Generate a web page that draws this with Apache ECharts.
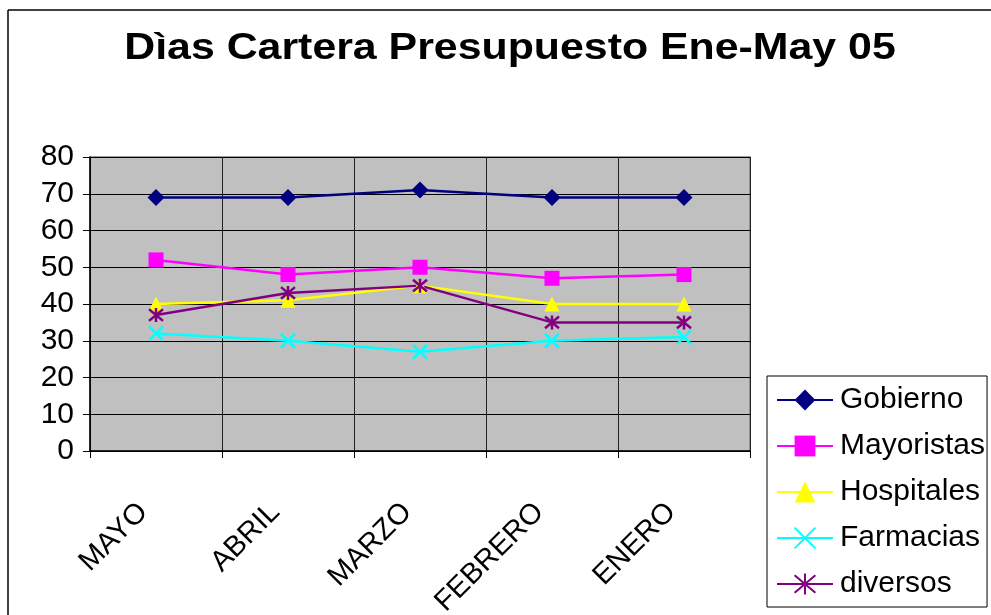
<!DOCTYPE html>
<html>
<head>
<meta charset="utf-8">
<script src="https://cdn.jsdelivr.net/npm/echarts@6/dist/echarts.min.js"></script>
<style>
  html, body { margin: 0; padding: 0; background: #fff; }
  #chart { width: 991px; height: 615px; }
</style>
</head>
<body>
<div id="chart"></div>
<script>
// Months, newest first
const months = ['MAYO', 'ABRIL', 'MARZO', 'FEBRERO', 'ENERO'];
const yTicks = [0, 10, 20, 30, 40, 50, 60, 70, 80];

// Days of portfolio per customer segment
const gobierno    = [69, 69, 71, 69, 69];
const mayoristas  = [52, 48, 50, 47, 48];
const hospitales  = [40, 41, 45, 40, 40];
const farmacias   = [32, 30, 27, 30, 31];
const diversos    = [37, 43, 45, 35, 35];

const titleText = 'Dìas Cartera Presupuesto Ene-May 05';

const FONT = '"Liberation Sans", Arial, sans-serif';

const X_PATH = 'path://M0,0 L10,10 M10,0 L0,10';
const STAR_PATH = 'path://M0,0 L10,10 M10,0 L0,10 M5,-1 L5,11';

function lineSeries(name, data, color, symbol, size, extra) {
  return Object.assign({
    name: name,
    type: 'line',
    data: data,
    symbol: symbol,
    symbolSize: size,
    showAllSymbol: true,
    lineStyle: { color: color, width: 2.5 },
    itemStyle: { color: color, opacity: 1 },
    emphasis: { disabled: true },
    animation: false,
    z: 3
  }, extra || {});
}

const chart = echarts.init(document.getElementById('chart'));
chart.setOption({
  backgroundColor: '#ffffff',
  animation: false,
  graphic: [
    { type: 'line', shape: { x1: 8, y1: 10, x2: 991, y2: 10 }, style: { stroke: '#000', lineWidth: 1.5 } },
    { type: 'line', shape: { x1: 8, y1: 10, x2: 8, y2: 615 }, style: { stroke: '#000', lineWidth: 1.5 } },
    {
      type: 'text',
      x: 510, y: 49,
      scaleX: 1.19,
      style: {
        text: titleText,
        font: 'bold 36px ' + FONT,
        fill: '#000',
        align: 'center',
        verticalAlign: 'middle'
      }
    }
  ],
  grid: {
    left: 90, right: 241, top: 157, bottom: 164,
    outerBoundsMode: 'none',
    containLabel: false,
    show: true,
    backgroundColor: '#c0c0c0',
    borderColor: '#808080',
    borderWidth: 1.5
  },
  legend: {
    orient: 'vertical',
    left: 767, top: 376,
    padding: [9, 2, 8, 9],
    itemWidth: 56,
    itemHeight: 26,
    itemGap: 16,
    backgroundColor: '#ffffff',
    borderColor: '#000',
    borderWidth: 1,
    borderRadius: 0,
    textStyle: { fontFamily: FONT, fontSize: 30, color: '#000', lineHeight: 30, padding: [0, 0, 0, 2] },
    data: ['Gobierno', 'Mayoristas', 'Hospitales', 'Farmacias', 'diversos']
  },
  xAxis: {
    type: 'category',
    data: months,
    boundaryGap: true,
    axisLine: { lineStyle: { color: '#000', width: 1.5 } },
    axisTick: { show: true, length: 7, lineStyle: { color: '#000' } },
    splitLine: { show: true, lineStyle: { color: '#222', width: 1 } },
    axisLabel: {
      rotate: 45,
      margin: 44,
      padding: [0, 18, 0, 0],
      fontFamily: FONT,
      fontSize: 29,
      color: '#000',
      interval: 0
    }
  },
  yAxis: {
    type: 'value',
    min: 0, max: 80, interval: 10,
    axisLine: { show: true, lineStyle: { color: '#000', width: 1.5 } },
    axisTick: { show: true, length: 7, lineStyle: { color: '#000' } },
    splitLine: { show: true, lineStyle: { color: '#000', width: 1 } },
    axisLabel: {
      margin: 16,
      fontFamily: FONT,
      fontSize: 30,
      color: '#000',
      formatter: function (v) { return yTicks.indexOf(v) >= 0 ? String(v) : ''; }
    }
  },
  series: [
    lineSeries('Gobierno', gobierno, '#000080', 'diamond', 17),
    lineSeries('Mayoristas', mayoristas, '#ff00ff', 'rect', 15),
    lineSeries('Hospitales', hospitales, '#ffff00', 'triangle', 15),
    lineSeries('Farmacias', farmacias, '#00ffff', X_PATH, 14, {
      itemStyle: { color: 'none', borderColor: '#00ffff', borderWidth: 2.5, opacity: 1 }
    }),
    lineSeries('diversos', diversos, '#800080', STAR_PATH, 14, {
      itemStyle: { color: 'none', borderColor: '#800080', borderWidth: 2.5, opacity: 1 }
    })
  ]
});
</script>
</body>
</html>
